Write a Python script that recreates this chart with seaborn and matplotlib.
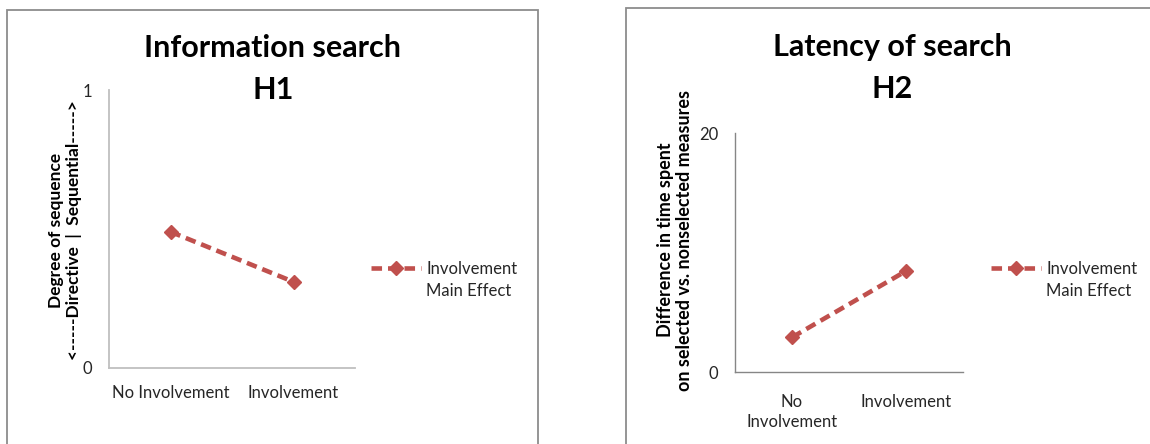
import matplotlib
matplotlib.use("Agg")
import matplotlib.pyplot as plt
from matplotlib.patches import Rectangle
import seaborn as sns
import pandas as pd

# ---- data ----
categories = ["No Involvement", "Involvement"]
h1_values = [0.49, 0.31]
h2_values = [2.9, 8.45]
h1_ticklabels = ["No Involvement", "Involvement"]
h2_ticklabels = ["No\nInvolvement", "Involvement"]
series_label = "Involvement\nMain Effect"

sns.set_style("white")
plt.rcParams["font.family"] = ["Lato", "DejaVu Sans"]

RED = "#C0504D"
TXT = "#262626"
W, H = 1150, 444
fig = plt.figure(figsize=(W / 100, H / 100), dpi=100)

# panel borders
fig.add_artist(Rectangle((7 / W, -0.2), (538 - 7) / W, 1.2 - 10 / H,
                         transform=fig.transFigure, fill=False,
                         edgecolor="#8c8c8c", linewidth=1.3))
fig.add_artist(Rectangle((626 / W, -0.2), 1.0, 1.2 - 8 / H,
                         transform=fig.transFigure, fill=False,
                         edgecolor="#8c8c8c", linewidth=1.3))

ax1 = fig.add_axes([109 / W, 1 - 368 / H, 246 / W, 278 / H])
ax2 = fig.add_axes([735 / W, 1 - 372 / H, 228 / W, 239 / H])

df1 = pd.DataFrame({"cat": categories, "val": h1_values})
df2 = pd.DataFrame({"cat": categories, "val": h2_values})

for ax, df in ((ax1, df1), (ax2, df2)):
    sns.lineplot(data=df, x="cat", y="val", ax=ax, sort=False, color=RED,
                 linewidth=3.3, marker="D", markersize=7.5,
                 markeredgewidth=1.0, markeredgecolor=RED,
                 label=series_label)
    for ln in ax.lines:
        ln.set_dashes((2.3, 1.3))
    ax.set_xlim(-0.5, 1.5)
    ax.set_xlabel("")
    ax.set_ylabel("")
    for s in ("top", "right"):
        ax.spines[s].set_visible(False)

# left panel axes
ax1.set_ylim(0, 1)
ax1.set_yticks([0, 1])
ax1.set_yticklabels(["0", "1"])
ax1.set_xticks([0, 1])
ax1.set_xticklabels(h1_ticklabels)
for s in ("left", "bottom"):
    ax1.spines[s].set_color("#bfbfbf")
    ax1.spines[s].set_linewidth(1.3)
ax1.tick_params(axis="y", length=0, pad=12, labelsize=12, labelcolor=TXT)
ax1.tick_params(axis="x", length=0, pad=12, labelsize=12, labelcolor=TXT)

# right panel axes
ax2.set_ylim(0, 20)
ax2.set_yticks([0, 20])
ax2.set_yticklabels(["0", "20"])
ax2.set_xticks([-0.5, 0, 1, 1.5])
ax2.set_xticklabels([""] + h2_ticklabels + [""])
for lbl in ax2.get_xticklabels():
    lbl.set_linespacing(1.38)
for s in ("left", "bottom"):
    ax2.spines[s].set_color("#868686")
    ax2.spines[s].set_linewidth(1.0)
ax2.tick_params(axis="y", length=0, pad=12, labelsize=12, labelcolor=TXT)
ax2.tick_params(axis="x", length=4, width=1.0, color="#868686", direction="out",
                pad=11.5, labelsize=12, labelcolor=TXT)

# legends
for ax, x0 in ((ax1, 371), (ax2, 991)):
    leg = ax.legend(loc="center left", bbox_to_anchor=(x0 / W, 1 - 280 / H),
                    bbox_transform=fig.transFigure, frameon=False,
                    handlelength=3.0, handletextpad=0.3, handleheight=1.0,
                    fontsize=12, borderpad=0, borderaxespad=0)
    for t in leg.get_texts():
        t.set_color(TXT)
        t.set_linespacing(1.45)
    for col in leg._legend_handle_box.get_children():
        for item in col.get_children():
            item.align = "top"

# titles
fig.text(273 / W, 1 - 34 / H, "Information search\nH1", ha="center", va="top",
         fontsize=22, fontweight="bold", color="black", linespacing=1.62)
fig.text(892 / W, 1 - 33 / H, "Latency of search\nH2", ha="center", va="top",
         fontsize=22, fontweight="bold", color="black", linespacing=1.62)

# y labels
fig.text(65 / W, 1 - 230 / H,
         "Degree of sequence\n<-----Directive  |  Sequential----->",
         rotation=90, ha="center", va="center", fontsize=12.5,
         fontweight="bold", color="black", linespacing=1.18)
fig.text(675 / W, 1 - 240 / H,
         "Difference in time spent\non selected vs. nonselected measures",
         rotation=90, ha="center", va="center", fontsize=13,
         fontweight="bold", color="black", linespacing=1.15)

fig.savefig("out.png", dpi=100)
